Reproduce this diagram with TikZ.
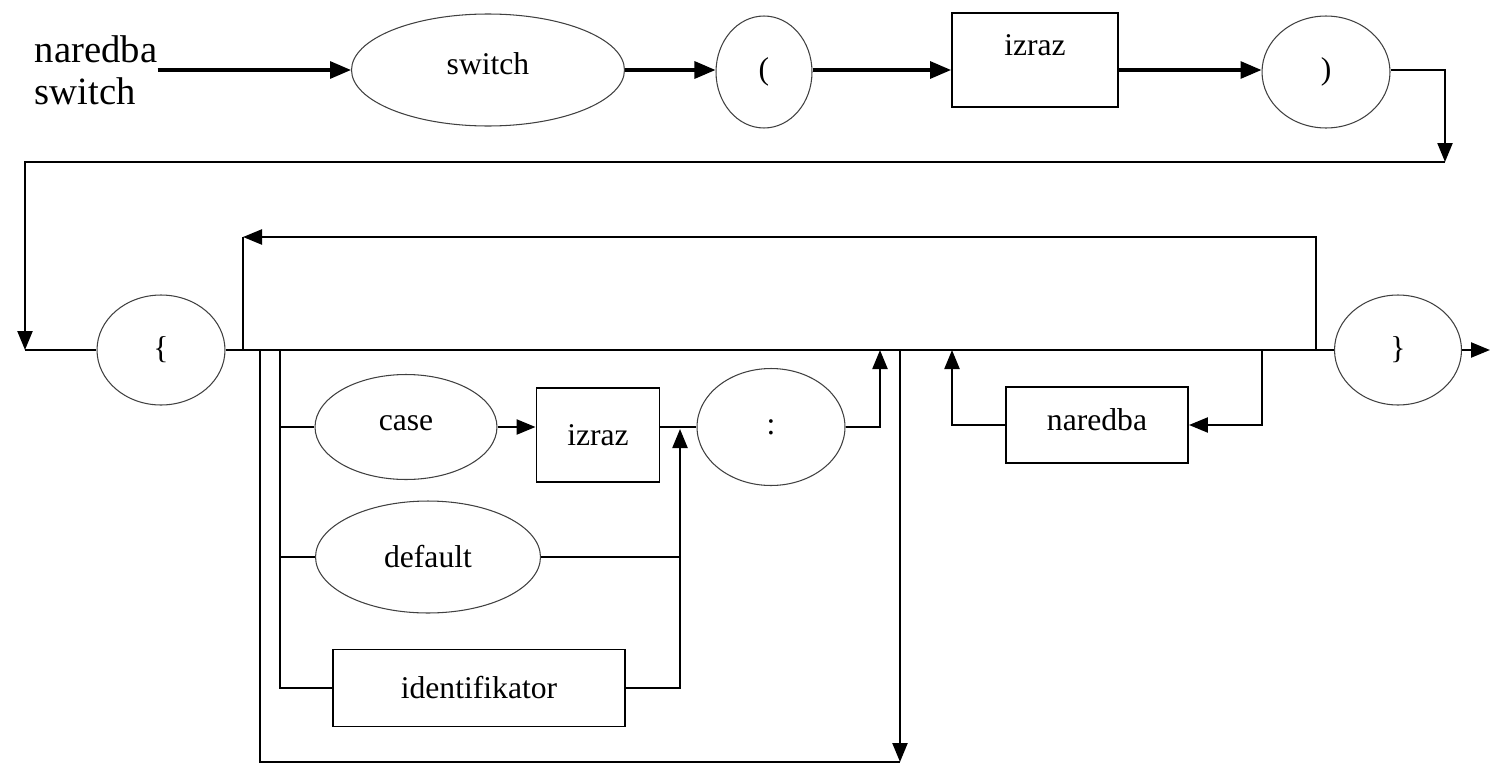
\documentclass[tikz,border=0pt]{standalone}
\usepackage{fontspec}
\setmainfont{Liberation Serif}
\usetikzlibrary{arrows.meta}
\usetikzlibrary{positioning}
\usetikzlibrary{shapes.geometric}

\tikzset{
  oval/.style={draw=black!75,ellipse,line width=0.6pt,inner sep=0pt,font=\fontsize{18}{20}\selectfont},
  box/.style={draw,rectangle,line width=1.1pt,inner sep=0pt,font=\fontsize{18}{20}\selectfont},
  ln/.style={line width=1.3pt},
  arr/.style={line width=1.3pt,-{Triangle[length=0.38cm,width=0.3cm]}},
  toparr/.style={line width=1.8pt,-{Triangle[length=0.42cm,width=0.34cm]}},
}

\begin{document}
\begin{tikzpicture}[x=0.02cm,y=-0.02cm]
\useasboundingbox (0,0) rectangle (1490,764);

% top row
\node[align=left,inner sep=0pt,font=\fontsize{22}{24}\selectfont] (title) at (96,70) {naredba\\switch};
\node[oval,minimum width=5.46cm,minimum height=2.24cm,text depth=0.25cm] (sw) at (488,70) {switch};
\node[oval,minimum width=1.92cm,minimum height=2.24cm] (lp) at (764,72) {(};
\node[box,minimum width=3.32cm,minimum height=1.88cm,text depth=0.6cm] (iz) at (1035,60) {izraz};
\node[oval,minimum width=2.56cm,minimum height=2.24cm] (rp) at (1326,72) {)};

\draw[toparr] (title.east) -- (sw.west);
\draw[toparr] (sw.east) -- (sw.east -| lp.west);
\draw[toparr] (sw.east -| lp.east) -- (sw.east -| iz.west);
\draw[toparr] (iz.east |- sw.east) -- (sw.east -| rp.west);

\coordinate (dn) at (1445,162);
\coordinate (lt) at (25,350);
\draw[arr] (sw.east -| rp.east) -| (dn);
\draw[arr] (dn) -| (lt);

% body row
\node[oval,minimum width=2.56cm,minimum height=2.2cm] (lb) at (161,350) {\{};
\node[oval,minimum width=2.54cm,minimum height=2.2cm] (rb) at (1398,350) {\}};
\coordinate (out) at (1490,350);

\draw[ln] (lt) -- (lb.west);
\draw[ln] (lb) -- (rb);
\draw[arr] (rb.east) -- (out);

% repeat loop
\coordinate (rj) at (1316,350);
\coordinate (lj) at (243,350);
\coordinate (lk) at (243,237);
\draw[arr] (rj) |- (lk);
\draw[ln] (lk) -- (lj);

% labels
\node[oval,minimum width=3.64cm,minimum height=2.1cm,text depth=0.15cm] (case) at (406,427) {case};
\node[box,minimum width=2.46cm,minimum height=1.88cm] (iz2) at (598,435) {izraz};
\node[oval,minimum width=2.96cm,minimum height=2.34cm] (col) at (771,427) {:};
\node[oval,minimum width=4.5cm,minimum height=2.24cm] (dflt) at (428,557) {default};
\node[box,minimum width=5.84cm,minimum height=1.54cm] (ident) at (479,688) {identifikator};

\coordinate (b0) at (260,350);
\coordinate (b1) at (280,350);
\coordinate (skip) at (900,350);
\coordinate (bot) at (900,762);
\coordinate (cj) at (880,350);
\coordinate (mj) at (680,429);

\draw[ln] (b0) |- (bot);
\draw[arr] (skip) -- (bot);
\draw[ln] (b1) |- (ident.west);
\draw[ln] (b1 |- case.west) -- (case.west);
\draw[ln] (b1 |- dflt.west) -- (dflt.west);
\draw[arr] (case.east) -- (case.east -| iz2.west);
\draw[ln] (iz2.east |- col.west) -- (col.west);
\draw[arr] (col.east) -| (cj);
\draw[arr] (ident.east) -| (mj);
\draw[ln] (dflt.east) -- (dflt.east -| mj);

% statements
\node[box,minimum width=3.64cm,minimum height=1.52cm,text depth=0.2cm] (nar) at (1097,425) {naredba};
\coordinate (nj) at (1262,350);
\coordinate (nk) at (952,350);
\draw[arr] (nj) |- (nar.east);
\draw[arr] (nar.west) -| (nk);

\end{tikzpicture}
\end{document}
